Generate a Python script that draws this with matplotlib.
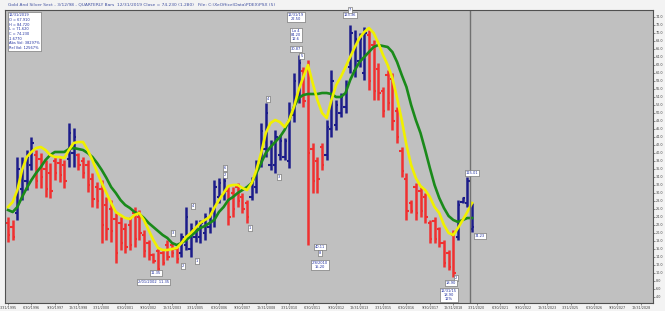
import matplotlib
matplotlib.use('Agg')
import matplotlib.pyplot as plt

# quarterly OHLC, Q1 1995 .. Q4 2019
highs = [24.0, 23.25, 39.0, 39.0, 40.75, 44.0, 40.75, 40.0, 38.25, 37.5,
         39.0, 38.75, 38.25, 47.5, 46.25, 40.0, 39.0, 38.25, 35.0, 32.75,
         33.25, 29.0, 28.25, 25.0, 24.0, 22.5, 24.0, 26.5, 25.75, 20.75,
         18.25, 15.0, 16.5, 15.75, 18.25, 17.5, 16.5, 20.0, 26.5, 22.5,
         23.25, 23.25, 25.0, 26.5, 33.25, 33.75, 34.0, 31.5, 31.5, 32.5,
         30.0, 28.25, 34.0, 38.25, 47.5, 52.5, 43.25, 45.75, 44.5, 43.75,
         52.75, 60.0, 64.5, 61.5, 63.25, 42.5, 39.0, 42.5, 48.25, 60.75,
         53.25, 55.0, 58.25, 72.0, 70.75, 70.0, 71.5, 70.75, 68.25, 62.5,
         56.5, 60.75, 60.0, 51.5, 41.5, 35.0, 28.25, 32.5, 31.5, 30.0,
         23.25, 24.0, 21.5, 18.25, 15.75, 20.75, 28.25, 29.0, 34.0, 27.5]
lows = [17.75, 18.25, 23.25, 28.25, 30.75, 35.75, 31.25, 31.25, 29.0, 28.75,
        33.25, 32.75, 31.25, 36.5, 36.5, 35.75, 33.75, 30.25, 26.5, 26.25,
        17.5, 18.25, 17.75, 12.5, 15.75, 15.0, 15.75, 16.5, 18.25, 14.0,
        13.25, 12.5, 10.0, 12.0, 13.25, 14.0, 12.5, 14.0, 15.75, 14.0,
        17.75, 17.5, 18.25, 20.0, 21.5, 27.5, 28.25, 22.0, 24.0, 26.5,
        25.0, 22.5, 28.25, 30.0, 36.5, 39.0, 35.75, 35.0, 38.25, 38.25,
        36.25, 47.75, 52.5, 51.5, 17.0, 30.0, 30.0, 35.75, 38.25, 44.0,
        45.75, 49.0, 50.0, 60.0, 59.0, 61.5, 58.25, 55.75, 53.25, 53.25,
        49.0, 50.75, 45.75, 42.5, 34.0, 23.25, 25.0, 23.25, 24.0, 22.5,
        17.5, 17.5, 16.5, 11.5, 10.75, 9.0, 18.25, 27.5, 26.5, 20.25]
opens = [22.5, 21.5, 25.0, 31.0, 33.0, 37.0, 39.5, 38.5, 36.0, 35.0,
         38.0, 37.5, 37.0, 38.5, 40.0, 39.5, 38.0, 37.0, 33.5, 31.5,
         31.0, 27.0, 26.0, 23.5, 22.5, 21.0, 22.0, 25.0, 24.0, 19.5,
         17.5, 14.5, 15.5, 15.0, 17.0, 17.0, 16.0, 15.0, 17.0, 16.0,
         19.0, 19.0, 20.0, 21.5, 23.0, 29.0, 29.5, 30.5, 30.0, 31.5,
         29.0, 27.5, 29.0, 31.5, 38.0, 41.0, 37.0, 37.0, 39.5, 39.0,
         38.0, 49.5, 54.0, 60.5, 61.0, 41.0, 38.0, 41.5, 39.5, 46.0,
         47.0, 50.0, 51.5, 61.5, 60.5, 63.0, 60.0, 69.5, 67.0, 61.0,
         55.5, 59.5, 58.5, 50.5, 40.5, 33.5, 27.5, 31.5, 30.5, 29.0,
         22.5, 23.0, 21.0, 17.5, 15.0, 19.5, 19.0, 27.75, 27.5, 21.0]
closes = [19.5, 19.0, 36.0, 37.5, 39.0, 42.5, 33.0, 34.0, 31.0, 30.5,
          35.0, 34.5, 33.0, 45.0, 44.0, 37.0, 35.0, 32.0, 28.5, 28.0,
          22.0, 21.0, 20.5, 15.0, 17.5, 16.5, 17.0, 18.5, 20.0, 15.5,
          14.5, 13.0, 11.0, 12.5, 14.0, 15.0, 13.5, 19.0, 24.0, 21.0,
          22.0, 22.5, 24.0, 25.5, 31.5, 32.5, 33.0, 24.0, 26.0, 28.0,
          26.0, 24.0, 33.0, 37.0, 45.5, 50.0, 42.0, 44.0, 43.0, 43.0,
          50.0, 58.0, 62.5, 53.0, 40.0, 33.0, 33.5, 37.0, 46.5, 58.0,
          52.0, 54.0, 57.0, 70.0, 68.5, 68.5, 70.0, 58.0, 55.5, 55.0,
          50.5, 52.5, 48.0, 44.0, 35.5, 25.5, 25.5, 25.0, 25.5, 24.0,
          18.5, 18.5, 17.5, 12.5, 11.5, 10.0, 27.0, 28.75, 33.0, 21.5]

# the two average lines as drawn on the chart
fast_avg = [26.5, 27.75, 30.75, 35.75, 39.0, 40.25, 41.25, 41.5, 40.75, 39.5,
            39.0, 39.0, 38.75, 40.75, 42.5, 42.75, 42.75, 40.75, 38.25, 35.25,
            32.5, 30.0, 27.5, 25.25, 24.5, 23.75, 23.5, 24.5, 25.0, 23.25,
            20.75, 18.25, 16.25, 15.75, 15.75, 16.0, 16.25, 17.5, 19.0, 20.0,
            21.25, 22.5, 23.25, 24.0, 26.25, 28.25, 30.0, 31.75, 32.0, 32.0,
            31.25, 30.75, 32.5, 35.75, 40.0, 45.0, 47.5, 48.25, 47.75, 46.5,
            48.25, 51.5, 55.75, 59.0, 62.0, 57.5, 53.25, 50.0, 48.75, 53.25,
            57.0, 59.0, 61.5, 64.0, 66.5, 68.75, 70.25, 71.25, 70.0, 67.5,
            64.5, 62.0, 58.75, 53.75, 48.25, 42.0, 37.0, 33.75, 31.75, 30.75,
            29.0, 26.5, 25.0, 22.0, 20.0, 19.5, 21.25, 23.25, 25.25, 27.5]
slow_avg = [25.75, 25.25, 26.5, 29.0, 31.25, 33.25, 35.0, 36.5, 38.25, 39.5,
            40.25, 40.25, 40.25, 41.0, 41.25, 41.0, 40.75, 40.0, 39.0, 37.5,
            35.75, 33.75, 31.5, 30.0, 28.25, 27.0, 26.25, 25.25, 24.75, 23.75,
            22.5, 21.5, 20.5, 19.5, 18.75, 17.5, 17.0, 17.5, 18.25, 19.25,
            20.25, 21.25, 21.75, 22.5, 23.25, 25.25, 26.5, 28.25, 29.0, 30.0,
            30.75, 31.5, 32.5, 35.0, 37.5, 40.0, 41.5, 42.75, 44.0, 45.75,
            48.25, 51.5, 53.75, 54.5, 54.75, 54.75, 54.75, 55.0, 55.0, 54.75,
            54.0, 54.0, 55.0, 58.25, 60.75, 62.75, 64.0, 65.25, 66.5, 67.0,
            66.75, 66.5, 65.25, 62.75, 59.5, 56.5, 52.0, 48.25, 45.0, 40.75,
            36.25, 32.0, 28.75, 26.25, 24.25, 23.25, 22.75, 23.25, 23.75, 23.75]

date_labels = ['3/31/1995', '6/30/1996', '9/30/1997', '12/31/1998', '3/31/2000',
               '6/30/2001', '9/30/2002', '12/31/2003', '3/31/2005', '6/30/2006',
               '9/30/2007', '12/31/2008', '3/31/2010', '6/30/2011', '9/30/2012',
               '12/31/2013', '3/31/2015', '6/30/2016', '9/30/2017', '12/31/2018',
               '3/31/2020', '6/30/2021', '9/30/2022', '12/31/2023', '3/31/2025',
               '6/30/2026', '9/30/2027', '12/31/2028']
price_ticks = list(range(4, 76, 2))

title = ('Gold And Silver Sect - 3/12/98 - QUARTERLY Bars  12/31/2019 Close = 74.230 (1.280)'
         '   File: C:\\XeOffice\\Data\\PDEX\\PSX (5)')
info_lines = ['12/31/2019', 'O = 67.910', 'H = 84.720', 'L = 71.620', 'C = 74.230',
              '-1.6770', 'Abs Vol: 38297%', 'Rel Vol: 12567%']

# small white boxes left on the chart (bar, price, text)
notes = [(61.4, 74.0, '12/31/19\n22.50'), (61.4, 69.5, 'Lo 4\n84.20\n12.6'),
         (61.4, 66.0, '30.87'), (62.6, 64.3, '5'), (73.0, 74.5, '123.36'),
         (73.0, 75.7, '7'), (55.5, 53.5, '4'), (46.3, 36.3, '6'), (46.3, 34.5, '2'),
         (51.6, 21.2, '1'), (57.8, 34.0, '3'), (39.5, 26.8, '4'), (35.2, 20.0, '3'),
         (37.3, 11.8, '2'), (40.3, 13.0, '1'), (31.5, 10.0, '11.35'),
         (31.0, 7.7, '2/01/2002  11.35'), (66.5, 16.5, '40.11'), (66.5, 15.0, '8'),
         (66.5, 12.0, '2/8/2010\n15.20'), (99.0, 35.0, '115.01'), (100.6, 19.2, '74.23'),
         (95.5, 8.7, '2'), (94.5, 7.5, '18.90'), (94.0, 4.5, '12/31/15\n18.90\n12%')]

fig = plt.figure(figsize=(6.65, 3.11), dpi=100)
fig.patch.set_facecolor('#f3f3f3')
ax = fig.add_axes([5 / 665, 8 / 311, 648 / 665, 293 / 311])
ax.set_facecolor('#c0c0c0')

for i in range(len(highs)):
    col = '#1c1c8a' if closes[i] >= opens[i] else '#f03030'
    ax.vlines(i, lows[i], highs[i], color=col, lw=1.8)
    ax.hlines(opens[i], i - 0.5, i, color=col, lw=1.5)
    ax.hlines(closes[i], i, i + 0.5, color=col, lw=1.5)

x = list(range(len(fast_avg)))
ax.plot(x, slow_avg, color='#1a8a1a', lw=1.9)
ax.plot(x, fast_avg, color='#f0f000', lw=1.9)

ax.axvline(98.6, color='#707070', lw=1.0)

for nx, ny, txt in notes:
    ax.text(nx, ny, txt, fontsize=2.6, color='#2030a0', ha='center', va='center',
            linespacing=1.1,
            bbox=dict(boxstyle='square,pad=0.25', fc='white', ec='#606060', lw=0.4))

ax.set_xlim(-0.64, 137.6)
ax.set_ylim(2.5, 75.75)
ax.yaxis.tick_right()
ax.set_yticks(price_ticks)
ax.set_yticklabels([f'{v:.1f}' for v in price_ticks])
ax.set_xticks(list(range(0, 136, 5)))
ax.set_xticklabels(date_labels)
ax.tick_params(axis='both', labelsize=2.4, length=1.2, width=0.4, pad=0.8,
               colors='#404040')
for s in ax.spines.values():
    s.set_color('#505050')
    s.set_linewidth(0.8)

fig.text(8 / 665, 1 - 5 / 311, title, fontsize=3.2, color='#4050a0', va='center')
fig.text(9 / 665, 1 - 13 / 311, '\n'.join(info_lines), fontsize=2.6, color='#2030a0',
         va='top', linespacing=1.25,
         bbox=dict(boxstyle='square,pad=0.3', fc='white', ec='#606060', lw=0.4))

fig.savefig('out.png', dpi=100, facecolor=fig.get_facecolor())
